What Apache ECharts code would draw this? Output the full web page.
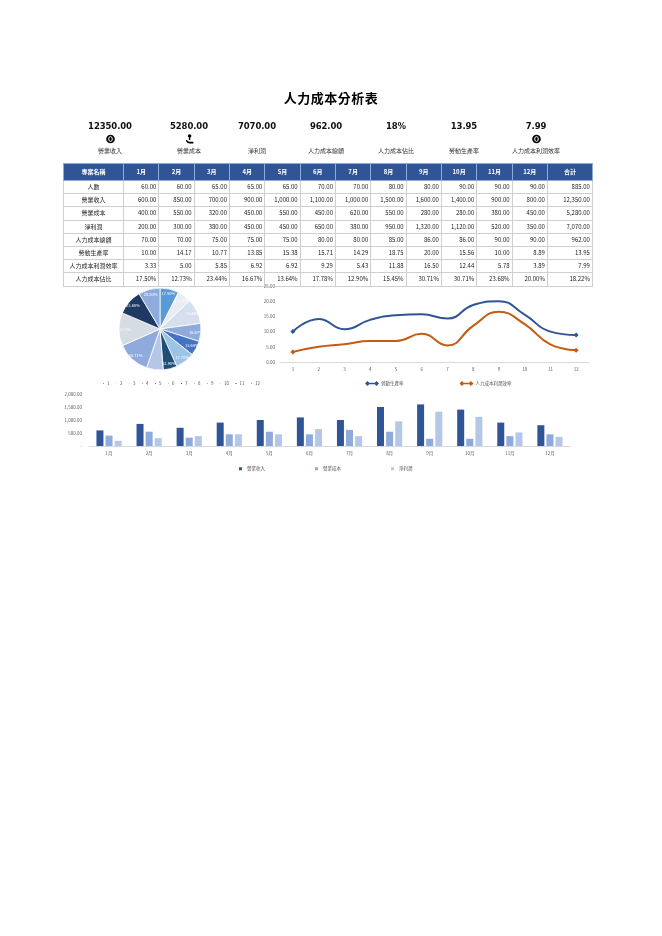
<!DOCTYPE html>
<html><head><meta charset="utf-8">
<script src="https://cdn.jsdelivr.net/npm/echarts@6/dist/echarts.min.js"></script>
<style>
body{margin:0;background:#fff;font-family:"Noto Sans CJK TC","Noto Sans",sans-serif;}
#page{position:relative;width:662px;height:936px;overflow:hidden;background:#fff}
#chart{position:absolute;left:0;top:0;width:662px;height:936px;z-index:0}
.title{position:absolute;top:88px;left:0;width:662px;text-align:center;font-size:13px;font-weight:bold;color:#000;z-index:1;letter-spacing:0.5px}
.kpi{position:absolute;width:90px;height:160px;text-align:center;z-index:1;line-height:1}
.kv{position:absolute;left:0;width:90px;top:122px;font-family:"DejaVu Sans",sans-serif;font-weight:900;font-size:8.5px;color:#111;letter-spacing:-0.1px;line-height:1}
.ki{position:absolute;left:40.5px;top:133.5px;width:9px;height:10px;line-height:0}
.ki svg{display:block}
.kl{position:absolute;left:0;width:90px;top:148px;font-size:6px;color:#333;line-height:1}
table{position:absolute;left:63px;top:163px;border-collapse:collapse;z-index:1;table-layout:fixed;font-size:6px;color:#222}
td,th{border:0.6px solid #CFCFCF;padding:0 2px;overflow:hidden;white-space:nowrap;line-height:12px;height:12.2px}
th{background:#2F5597;color:#fff;font-weight:bold;height:16px;border-color:#8EA9DB;text-align:center}
td{text-align:right}
td.first{text-align:center}
</style></head>
<body><div id="page">
<div id="chart"></div>
<div class="title">人力成本分析表</div>
<div id="kpis"></div>
<table id="tbl"></table>
</div>
<script>
// ---- data ----
const months = ['1月','2月','3月','4月','5月','6月','7月','8月','9月','10月','11月','12月'];
const monthNums = ['1','2','3','4','5','6','7','8','9','10','11','12'];
const headcount = [60,60,65,65,65,70,70,80,80,90,90,90];
const revenue = [600,850,700,900,1000,1100,1000,1500,1600,1400,900,800];
const cost = [400,550,320,450,550,450,620,550,280,280,380,450];
const profit = [200,300,380,450,450,650,380,950,1320,1120,520,350];
const laborCost = [70,70,75,75,75,80,80,85,86,86,90,90];
const productivity = [10.00,14.17,10.77,13.85,15.38,15.71,14.29,18.75,20.00,15.56,10.00,8.89];
const profitEff = [3.33,5.00,5.85,6.92,6.92,9.29,5.43,11.88,16.50,12.44,5.78,3.89];
const costRatio = [17.50,12.73,23.44,16.67,13.64,17.78,12.90,15.45,30.71,30.71,23.68,20.00];
const rowNames = ['人數','營業收入','營業成本','淨利潤','人力成本總額','勞動生產率','人力成本利潤效率','人力成本佔比'];
const rowTotals = [885,12350,5280,7070,962,13.95,7.99,18.22];
const kpiValues = ['12350.00','5280.00','7070.00','962.00','18%','13.95','7.99'];
const kpiLabels = ['營業收入','營業成本','淨利潤','人力成本總額','人力成本佔比','勞動生產率','人力成本利潤效率'];
const lineTicks = [0,5,10,15,20,25];
const barTicks = [0,500,1000,1500,2000];

// ---- KPI header ----
const kpiX = [110,189,257,326,396,464,536];
const coin = '<svg width="9" height="10" viewBox="0 0 9 10"><circle cx="4.5" cy="5" r="4.3" fill="#000"/><ellipse cx="4.5" cy="5" rx="1.8" ry="2.4" fill="none" stroke="#fff" stroke-width="1"/></svg>';
const hand = '<svg width="9" height="10" viewBox="0 0 9 10"><circle cx="4.6" cy="2" r="1.8" fill="#000"/><rect x="3.9" y="3.5" width="1.4" height="2.5" fill="#000"/><path d="M0.8 6.2 Q2 9.6 5 9.4 L8.4 9.4 L8.4 7.8 L4.6 7.8 Q2.6 7.8 2 6 Z" fill="#000"/></svg>';
const icons = [coin, hand, '', '', '', '', coin];
const kp = document.getElementById('kpis');
kpiValues.forEach((v,i)=>{
  const d=document.createElement('div');
  d.className='kpi';d.style.left=(kpiX[i]-45)+'px';d.style.top='0px';
  d.innerHTML='<div class="kv">'+v+'</div>'+(icons[i]?'<div class="ki">'+icons[i]+'</div>':'')+'<div class="kl">'+kpiLabels[i]+'</div>';
  kp.appendChild(d);
});

// ---- table ----
const fmt = v => v.toLocaleString('en-US',{minimumFractionDigits:2,maximumFractionDigits:2});
const pct = v => v.toFixed(2)+'%';
const rows = [headcount,revenue,cost,profit,laborCost,productivity,profitEff,costRatio];
let h='<colgroup><col style="width:60px">'+months.map(()=>'<col style="width:35.33px">').join('')+'<col style="width:45px"></colgroup>';
h+='<tr><th>專案名稱</th>'+months.map(m=>'<th>'+m+'</th>').join('')+'<th>合計</th></tr>';
rows.forEach((r,ri)=>{
  const f = ri===7?pct:fmt;
  h+='<tr><td class="first">'+rowNames[ri]+'</td>'+r.map(v=>'<td>'+f(v)+'</td>').join('')+'<td>'+f(rowTotals[ri])+'</td></tr>';
});
document.getElementById('tbl').innerHTML=h;

// ---- charts ----
const pieColors = ['#5B9BD5','#E9EDF2','#D6DFEE','#8FAADC','#4472C4','#9DC3E6','#1F4E79','#B4C7E7','#8FAADC','#D6DCE4','#203864','#8FAADC'];
const font = '"Noto Sans CJK TC","Noto Sans",sans-serif';
const lbl = {fontSize:4.5,color:'#595959',fontFamily:font};
const lineIcon = 'path://M0,2.5 L2.5,0 L5,2.5 L2.5,5 Z M2.5,1.8 L11.5,1.8 L11.5,3.2 L2.5,3.2 Z M9,2.5 L11.5,0 L14,2.5 L11.5,5 Z';
const pieData = costRatio.map((v,i)=>({name:monthNums[i],value:v,itemStyle:{color:pieColors[i]}}));
const endSym = (arr)=>arr.map((v,i)=>({value:v,symbol:(i===0||i===arr.length-1)?'diamond':'none'}));
const chart = echarts.init(document.getElementById('chart'),null,{renderer:'canvas'});
chart.setOption({
  animation:false,
  textStyle:{fontFamily:font},
  color:['#2F5597','#C55A11'],
  legend:[
    {data:monthNums, left:96, top:376, itemWidth:3, itemHeight:3, itemGap:4.5, icon:'rect', textStyle:{fontSize:4.5,color:'#595959',padding:[0,0,0,-3]}},
    {data:['勞動生產率','人力成本利潤效率'], left:360, top:376, itemWidth:14, itemHeight:5, itemGap:56, icon:lineIcon, textStyle:{fontSize:4.5,color:'#595959',padding:[0,0,0,-3]}},
    {data:['營業收入','營業成本','淨利潤'], left:234, top:461.5, itemWidth:3, itemHeight:3, itemGap:50, icon:'rect', textStyle:{fontSize:4.5,color:'#595959'}}
  ],
  grid:[
    {left:280, right:73, top:286, height:76},
    {left:89, right:92, top:394, height:52}
  ],
  xAxis:[
    {type:'category', gridIndex:0, data:monthNums, axisTick:{show:false}, axisLine:{lineStyle:{color:'#D9D9D9'}}, axisLabel:Object.assign({margin:5},lbl)},
    {type:'category', gridIndex:1, data:months, axisTick:{show:false}, axisLine:{lineStyle:{color:'#D9D9D9'}}, axisLabel:Object.assign({margin:5},lbl)}
  ],
  yAxis:[
    {type:'value', gridIndex:0, min:lineTicks[0], max:lineTicks[lineTicks.length-1], interval:5, splitLine:{show:false}, axisLine:{show:false}, axisTick:{show:false}, axisLabel:Object.assign({margin:5, formatter:v=>v.toFixed(2)},lbl)},
    {type:'value', gridIndex:1, min:barTicks[0], max:barTicks[barTicks.length-1], interval:500, splitLine:{show:false}, axisLine:{show:false}, axisTick:{show:false}, axisLabel:Object.assign({margin:7, formatter:v=>v===0?'-':fmt(v)},lbl)}
  ],
  series:[
    {type:'pie', name:'佔比', center:[160,329], radius:41, startAngle:90, clockwise:true, data:pieData,
      itemStyle:{borderColor:'#fff',borderWidth:0.8}, label:{show:false}, labelLine:{show:false}},
    {type:'pie', name:'佔比標籤', center:[160,329], radius:66, startAngle:90, clockwise:true, silent:true,
      legendHoverLink:false,
      data:costRatio.map((v,i)=>({name:'lab'+i,value:v})),
      itemStyle:{color:'rgba(0,0,0,0)'},
      label:{show:true, position:'inside', fontSize:4, color:'#fff', formatter:p=>p.value.toFixed(2)+'%'}, labelLine:{show:false}},
    {type:'line', name:'勞動生產率', xAxisIndex:0, yAxisIndex:0, data:endSym(productivity), smooth:0.5, symbol:'diamond', symbolSize:5,
      lineStyle:{width:2,color:'#2F5597'}, itemStyle:{color:'#2F5597'}},
    {type:'line', name:'人力成本利潤效率', xAxisIndex:0, yAxisIndex:0, data:endSym(profitEff), smooth:0.5, symbol:'diamond', symbolSize:5,
      lineStyle:{width:2,color:'#C55A11'}, itemStyle:{color:'#C55A11'}},
    {type:'bar', name:'營業收入', xAxisIndex:1, yAxisIndex:1, data:revenue, barWidth:7, barGap:'30%', itemStyle:{color:'#2F5597'}},
    {type:'bar', name:'營業成本', xAxisIndex:1, yAxisIndex:1, data:cost, barWidth:7, barGap:'30%', itemStyle:{color:'#8FAADC'}},
    {type:'bar', name:'淨利潤', xAxisIndex:1, yAxisIndex:1, data:profit, barWidth:7, barGap:'30%', itemStyle:{color:'#B4C7E7'}}
  ]
});
</script>
</body></html>
